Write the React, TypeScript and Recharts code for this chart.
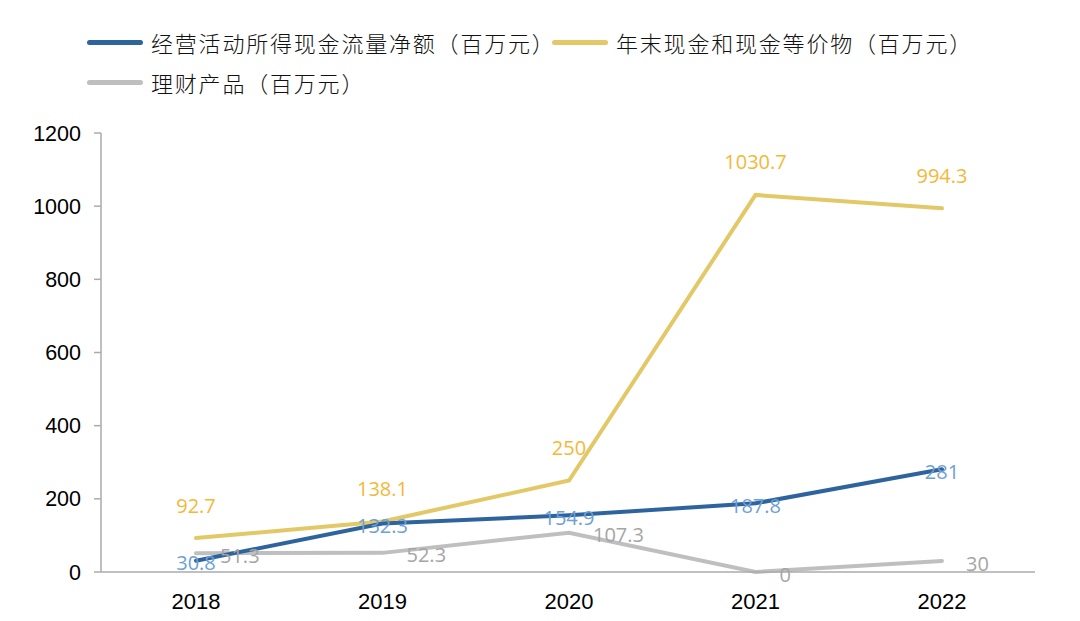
import React from 'react';
import { LineChart, Line, XAxis, YAxis, LabelList } from 'recharts';

const categories = ['2018', '2019', '2020', '2021', '2022'];
const operatingCashFlow = [30.8, 132.3, 154.9, 187.8, 281];
const cashEquivalents = [92.7, 138.1, 250, 1030.7, 994.3];
const wealthProducts = [51.3, 52.3, 107.3, 0, 30];
const yTicks = [0, 200, 400, 600, 800, 1000, 1200];

const seriesNames = {
  ocf: '经营活动所得现金流量净额（百万元）',
  cash: '年末现金和现金等价物（百万元）',
  wealth: '理财产品（百万元）',
};

const data = categories.map((year, i) => ({
  year,
  ocf: operatingCashFlow[i],
  cash: cashEquivalents[i],
  wealth: wealthProducts[i],
}));

const AXIS = '#ABABAB';
const TICK_FONT = '"Liberation Sans", Arial, sans-serif';
const LABEL_FONT = '"Open Sans", sans-serif';

const legendItems = [
  { key: 'ocf', color: '#2E649E', left: 87, top: 42 },
  { key: 'cash', color: '#E3C867', left: 552, top: 42 },
  { key: 'wealth', color: '#BFBFBF', left: 87, top: 82 },
];

const makeLabel = (color: string, dx: number, dy: number, anchor: 'middle' | 'start') => (props: any) => {
  const { x, y, value } = props;
  if (x == null || y == null) return null;
  return (
    <text
      x={x + dx}
      y={y + dy}
      fill={color}
      fontSize={20}
      fontFamily={LABEL_FONT}
      textAnchor={anchor}
      dominantBaseline="central"
    >
      {value}
    </text>
  );
};

export default function App() {
  return (
    <div style={{ position: 'absolute', left: 0, top: 0, width: 1080, height: 621, background: '#fff' }}>
      {legendItems.map((it) => (
        <div
          key={it.key}
          style={{
            position: 'absolute',
            left: it.left,
            top: it.top - 15,
            height: 30,
            display: 'flex',
            alignItems: 'center',
            whiteSpace: 'nowrap',
          }}
        >
          <div style={{ width: 56, height: 5, borderRadius: 3, background: it.color }} />
          <span
            style={{
              marginLeft: 8,
              fontSize: 22,
              fontWeight: 300,
              letterSpacing: 1.8,
              fontFamily: '"Noto Sans CJK SC", sans-serif',
              color: '#111',
              lineHeight: '30px',
            }}
          >
            {(seriesNames as any)[it.key]}
          </span>
        </div>
      ))}
      <LineChart width={1080} height={621} data={data} margin={{ top: 133, right: 45, bottom: 9, left: 0 }}>
        <XAxis
          dataKey="year"
          height={40}
          padding={{ left: 95, right: 93 }}
          axisLine={{ stroke: AXIS, strokeWidth: 1.5 }}
          tickLine={false}
          tickSize={0}
          tickMargin={21}
          tick={{ fill: '#000', fontSize: 22, fontFamily: TICK_FONT }}
          interval={0}
        />
        <XAxis
          xAxisId="top"
          dataKey="year"
          orientation="top"
          height={0}
          padding={{ left: 95, right: 93 }}
          axisLine={{ stroke: AXIS, strokeWidth: 1.5 }}
          tick={false}
          tickLine={false}
        />
        <YAxis
          width={101}
          domain={[0, 1200]}
          ticks={yTicks}
          axisLine={{ stroke: AXIS, strokeWidth: 1.5 }}
          tickLine={{ stroke: AXIS, strokeWidth: 1.5 }}
          tickSize={7}
          tickMargin={13}
          tick={{ fill: '#000', fontSize: 21.5, fontFamily: TICK_FONT }}
          interval={0}
        />
        <YAxis
          yAxisId="right"
          orientation="right"
          width={0}
          domain={[0, 1200]}
          ticks={yTicks}
          axisLine={{ stroke: AXIS, strokeWidth: 1.5 }}
          tick={false}
          tickLine={false}
        />
        <Line
          dataKey="wealth"
          name={seriesNames.wealth}
          stroke="#BFBFBF"
          strokeWidth={4}
          dot={false}
          isAnimationActive={false}
          strokeLinecap="round"
        >
          <LabelList dataKey="wealth" content={makeLabel('#A5A5A5', 24, 2, 'start')} />
        </Line>
        <Line
          dataKey="cash"
          name={seriesNames.cash}
          stroke="#E3C867"
          strokeWidth={4}
          dot={false}
          isAnimationActive={false}
          strokeLinecap="round"
        >
          <LabelList dataKey="cash" content={makeLabel('#F4B836', 0, -33, 'middle')} />
        </Line>
        <Line
          dataKey="ocf"
          name={seriesNames.ocf}
          stroke="#2E649E"
          strokeWidth={4}
          dot={false}
          isAnimationActive={false}
          strokeLinecap="round"
        >
          <LabelList dataKey="ocf" content={makeLabel('#6E9FD6', 0, 2, 'middle')} />
        </Line>
      </LineChart>
    </div>
  );
}
